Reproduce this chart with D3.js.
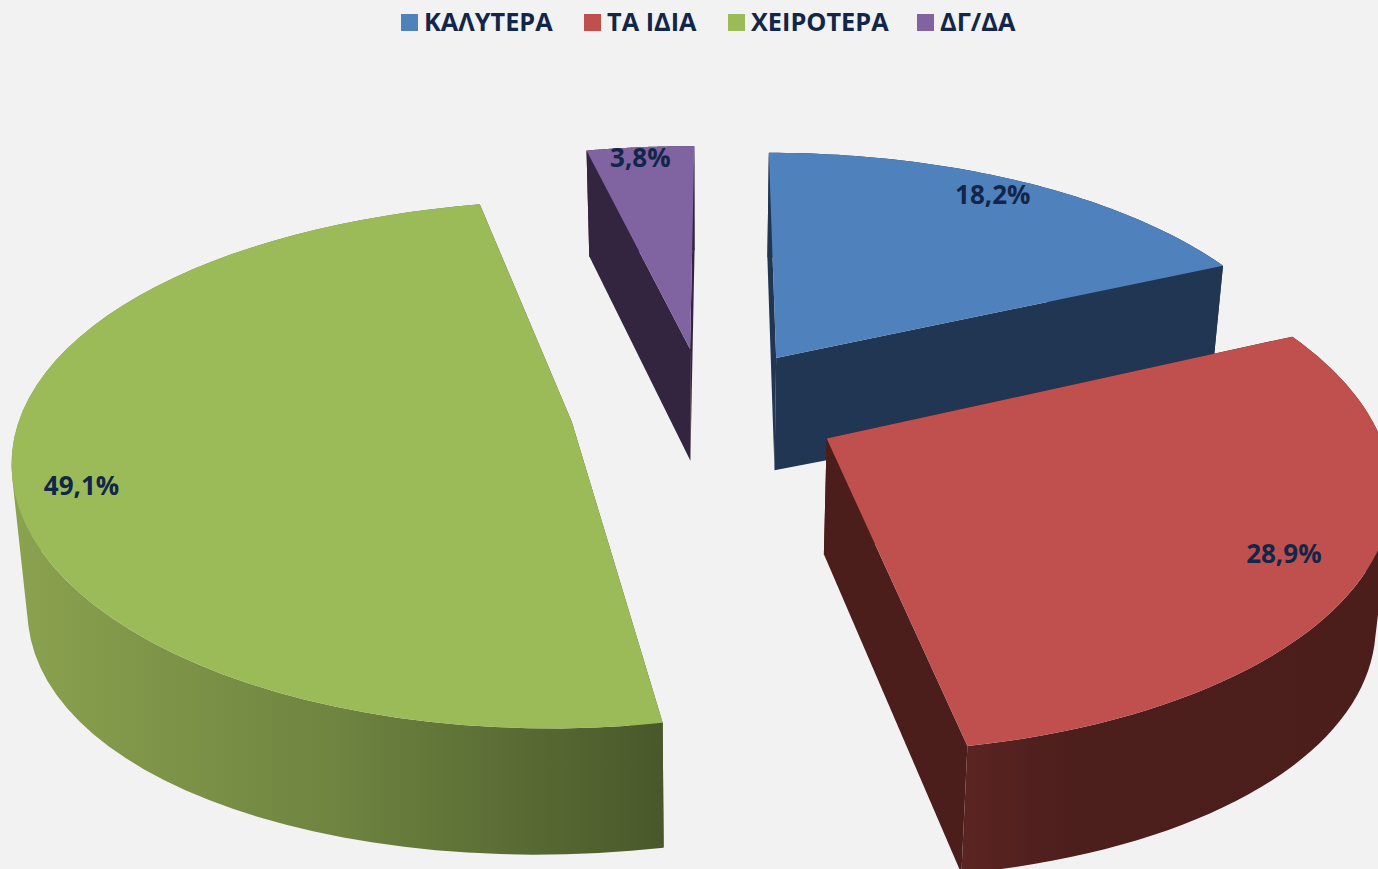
<!DOCTYPE html>
<html>
<head>
<meta charset="utf-8">
<script src="https://d3js.org/d3.v7.min.js"></script>
<style>
  html, body { margin: 0; padding: 0; background: #f2f2f2; overflow: hidden; }
  svg { display: block; }
  text { font-family: "Open Sans", sans-serif; font-weight: 700; fill: #12264a; }
</style>
</head>
<body>
<svg id="chart"></svg>
<script>
var categories = ['ΚΑΛΥΤΕΡΑ', 'ΤΑ ΙΔΙΑ', 'ΧΕΙΡΟΤΕΡΑ', 'ΔΓ/ΔΑ'];
var values = [18.2, 28.9, 49.1, 3.8];

var width = 1378, height = 869;
var topColors = ['#4f81bd', '#c0504d', '#9bbb59', '#8064a2'];
var wallColors = [
  ['#213653', '#213653', '#213653'],
  ['#5a2422', '#4c1e1c', '#4b1d1b'],
  ['#8ba24f', '#6e8440', '#49582a'],
  ['#33253f', '#33253f', '#33253f']
];

// pie plane -> screen, rough perspective
var cx = 705, cy = 409, radius = 544, explode = 135, tilt = 0.465, persp = 0.16, depth = 114, shrink = 0.023, skew = 0.004;
var sideBulge = 0.1, leftLift = 8;

function project(u, v, h) {
  h = h || 0;
  var s = 1 / (1 - persp * v / radius);
  var side = (u / radius) * (u / radius);
  // the source's 3D is not a clean ellipse: walls get taller at the sides, top rim rises on the left
  var lift = u < 0 ? leftLift * side * (1 - h / depth) : 0;
  return [
    cx + (u * s - skew * v) * (1 - shrink * h / depth),
    cy + v * tilt * s + h * Math.sqrt(s) * (1 + sideBulge * side) - lift
  ];
}

var svg = d3.select('#chart').attr('width', width).attr('height', height);
var defs = svg.append('defs');
var line = d3.line();

var pie = d3.pie().sort(null).value(function(d) { return d; });
var slices = pie(values);

// label spot on each slice: fraction of radius, nudge from mid angle
var labelR = [0.91, 0.86, 0.885, 0.945];
var labelTurn = [-1.4, 0.8, -5.5, -0.3];

function apex(d) {
  var mid = (d.startAngle + d.endAngle) / 2;
  return [explode * Math.sin(mid), -explode * Math.cos(mid)];
}

function rim(d, h) {
  var a = apex(d);
  return d3.range(0, 61).map(function(i) {
    var t = d.startAngle + (d.endAngle - d.startAngle) * i / 60;
    return project(a[0] + radius * Math.sin(t), a[1] - radius * Math.cos(t), h);
  });
}

// the order things overlap in the picture
var drawOrder = [3, 0, 2, 1];

drawOrder.forEach(function(idx) {
  var d = slices[idx];
  var a = apex(d);
  var g = svg.append('g').attr('class', 'slice');
  var topRim = rim(d, 0), lowRim = rim(d, depth);
  var cTop = project(a[0], a[1], 0), cLow = project(a[0], a[1], depth);

  var xs = topRim.map(function(p) { return p[0]; });
  var grad = defs.append('linearGradient')
    .attr('id', 'wall' + idx)
    .attr('gradientUnits', 'userSpaceOnUse')
    .attr('x1', d3.min(xs)).attr('x2', d3.max(xs)).attr('y1', 0).attr('y2', 0);
  var stops = idx === 1 ? [0, 0.25, 1] : [0, 0.5, 1];
  wallColors[idx].forEach(function(c, i) {
    grad.append('stop').attr('offset', stops[i]).attr('stop-color', c);
  });

  // radial walls
  [topRim[0], topRim[topRim.length - 1]].forEach(function(p, i) {
    var q = i === 0 ? lowRim[0] : lowRim[lowRim.length - 1];
    g.append('path')
      .attr('d', line([cTop, p, q, cLow]) + 'Z')
      .attr('fill', wallColors[idx][2]);
  });

  // outer wall: one path of same-winding quads, keeps the side silhouette straight without seams
  var wall = d3.range(topRim.length - 1).map(function(i) {
    var quad = [topRim[i], topRim[i + 1], lowRim[i + 1], lowRim[i]];
    if (d3.polygonArea(quad) < 0) quad.reverse();
    return line(quad) + 'Z';
  }).join('');
  g.append('path')
    .attr('d', wall)
    .attr('fill', 'url(#wall' + idx + ')');

  // top face
  g.append('path')
    .attr('d', line([cTop].concat(topRim)) + 'Z')
    .attr('fill', topColors[idx]);
});

// data labels
slices.forEach(function(d, i) {
  var a = apex(d);
  var t = (d.startAngle + d.endAngle) / 2 + labelTurn[i] * Math.PI / 180;
  var r = radius * labelR[i];
  var p = project(a[0] + r * Math.sin(t), a[1] - r * Math.cos(t), 0);
  svg.append('text')
    .attr('x', p[0]).attr('y', p[1])
    .attr('text-anchor', 'middle')
    .attr('dominant-baseline', 'central')
    .style('font-size', '26px')
    .text(String(values[i]).replace('.', ',') + '%');
});

// legend
var legendStarts = [401, 584, 728, 917];
var legend = svg.selectAll('.legend').data(categories).enter().append('g')
  .attr('class', 'legend')
  .attr('transform', function(d, i) { return 'translate(' + legendStarts[i] + ',14)'; });
legend.append('rect')
  .attr('width', 17).attr('height', 17)
  .attr('fill', function(d, i) { return topColors[i]; });
legend.append('text')
  .attr('x', 23).attr('y', 17)
  .style('font-size', '25.3px')
  .text(function(d) { return d; });
</script>
</body>
</html>
